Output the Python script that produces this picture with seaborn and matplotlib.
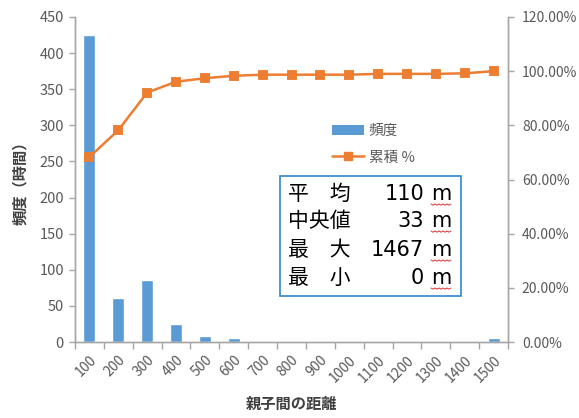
import numpy as np
import pandas as pd
import matplotlib
matplotlib.use("Agg")
import matplotlib.pyplot as plt
import seaborn as sns
from matplotlib.patches import Patch, Rectangle
from matplotlib.lines import Line2D
from matplotlib.ticker import PercentFormatter

# Data
bins = ["100", "200", "300", "400", "500", "600", "700", "800",
        "900", "1000", "1100", "1200", "1300", "1400", "1500"]
counts = [425, 61, 86, 25, 8, 6, 2, 0, 0, 0, 0, 0, 0, 0, 5]
cum_pct = [0.683, 0.782, 0.921, 0.961, 0.974, 0.983, 0.987, 0.987,
           0.987, 0.987, 0.990, 0.990, 0.990, 0.992, 1.000]

stat_labels = ["平\u3000均", "中央値", "最\u3000大", "最\u3000小"]
stat_values = ["110", "33", "1467", "0"]

bar_color = "#5B9BD5"
line_color = "#ED7D31"
grey = "#595959"
axis_grey = "#A6A6A6"

sns.set_theme(style="white")
plt.rcParams["font.family"] = ["Noto Sans CJK JP", "DejaVu Sans"]

df = pd.DataFrame({"bin": bins, "count": counts, "cum": cum_pct})

fig = plt.figure(figsize=(5.79, 4.18), dpi=100)
ax = fig.add_axes([75 / 579, 1 - 342 / 418, 433 / 579, 325 / 418])
ax2 = ax.twinx()

sns.barplot(data=df, x="bin", y="count", color=bar_color, width=0.42,
            saturation=1, ax=ax)
sns.pointplot(data=df, x="bin", y="cum", color=line_color, markers="s",
              markersize=6, linewidth=1.8, errorbar=None, ax=ax2)

n = len(bins)
ax.set_xlim(-0.5, n - 0.5)
ax.set_ylim(0, 450)
ax.set_yticks(np.arange(0, 451, 50))
ax2.set_ylim(0, 1.2)
ax2.set_yticks(np.arange(0, 1.21, 0.2))
ax2.yaxis.set_major_formatter(PercentFormatter(1.0, decimals=2))

# category ticks between bars, labels at bar centres
ax.set_xticks(np.arange(n))
ax.set_xticklabels(bins, rotation=45, ha="right", rotation_mode="anchor")
ax.set_xticks(np.arange(-0.5, n), minor=True)
ax.tick_params(axis="x", which="major", length=0, pad=8, labelsize=10, labelcolor=grey)
ax.tick_params(axis="x", which="minor", length=5, width=1, color=axis_grey,
               direction="out", bottom=True)
ax.tick_params(axis="y", length=4, width=1, color=axis_grey, direction="out",
               left=True, labelsize=10.5, labelcolor=grey, pad=4)
ax2.tick_params(axis="y", length=4, width=1, color=axis_grey, direction="out",
                right=True, labelsize=10, labelcolor=grey, pad=6)

for a in (ax, ax2):
    for side in ("left", "right", "bottom"):
        a.spines[side].set_color(axis_grey)
        a.spines[side].set_linewidth(1)
    a.spines["top"].set_visible(False)
    a.grid(False)

ax.set_xlabel("親子間の距離", fontsize=11, fontweight="bold", color="#404040", labelpad=8)
ax.set_ylabel("頻度（時間）", fontsize=11, fontweight="bold", color="#404040", labelpad=8)
ax2.set_xlabel("")
ax2.set_ylabel("")

handles = [Patch(facecolor=bar_color, edgecolor="none"),
           Line2D([], [], color=line_color, marker="s", markersize=6, linewidth=1.8)]
leg = ax2.legend(handles, ["頻度", "累積 %"], loc="upper left",
                 bbox_to_anchor=(319 / 579, 1 - 111 / 418),
                 bbox_transform=fig.transFigure, frameon=False,
                 fontsize=10.5, labelspacing=0.85, handlelength=2.2,
                 handletextpad=0.3)
for t in leg.get_texts():
    t.set_color(grey)

# statistics text box
box = Rectangle((280 / 579, 1 - 296 / 418), 181 / 579, 120 / 418,
                transform=fig.transFigure, facecolor="white",
                edgecolor="#2E86D6", linewidth=1.2, zorder=5)
fig.patches.append(box)
row_y = [194, 221, 250, 278]
for lab, val, y in zip(stat_labels, stat_values, row_y):
    yf = 1 - y / 418
    fig.text(288 / 579, yf, lab, fontsize=15, va="center", ha="left",
             color="black", zorder=6)
    fig.text(424 / 579, yf, val, fontsize=15, va="center", ha="right",
             color="black", zorder=6, family=["DejaVu Sans"])
    fig.text(431 / 579, yf, "m", fontsize=15, va="center", ha="left",
             color="black", zorder=6, family=["DejaVu Sans"])
    # spell-check squiggle under the unit
    xs = np.linspace(431, 451, 11)
    ys = y + 10 + np.array([0, 1, 0, 1, 0, 1, 0, 1, 0, 1, 0]) * 1.2
    fig.lines.append(Line2D(xs / 579, 1 - ys / 418, color="#E03030",
                            linewidth=0.7, transform=fig.transFigure, zorder=7))

fig.savefig("out.png", dpi=100)
